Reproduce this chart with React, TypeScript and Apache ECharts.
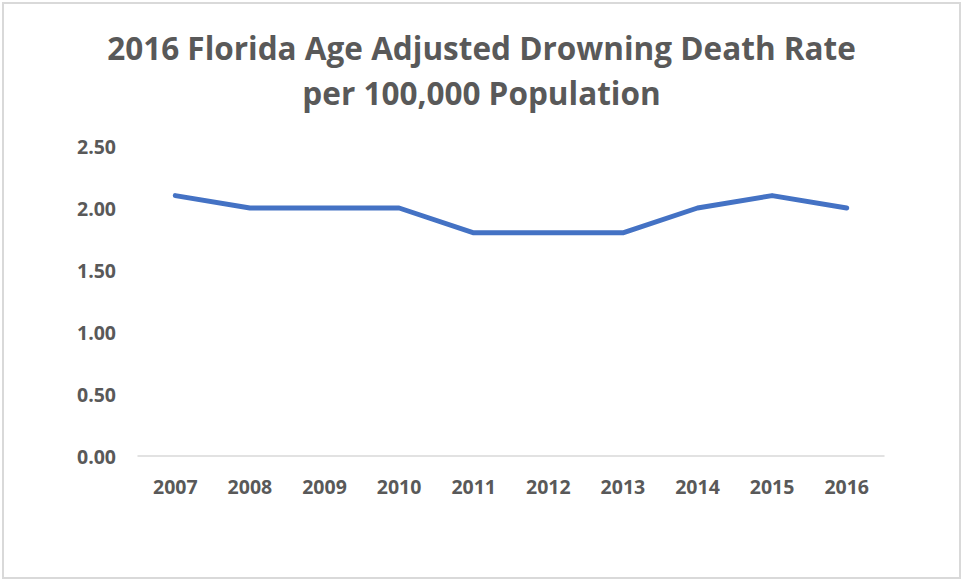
import React, { useEffect, useRef } from "react";
import * as echarts from "echarts";

const categories = ["2007", "2008", "2009", "2010", "2011", "2012", "2013", "2014", "2015", "2016"];
const rates = [2.1, 2.0, 2.0, 2.0, 1.8, 1.8, 1.8, 2.0, 2.1, 2.0];
const titleText = "2016 Florida Age Adjusted Drowning Death Rate\nper 100,000 Population";

export default function App() {
  const ref = useRef<HTMLDivElement>(null);
  useEffect(() => {
    if (!ref.current) return;
    const chart = echarts.init(ref.current, undefined, { renderer: "svg" });
    chart.setOption({
      animation: false,
      title: {
        text: titleText,
        left: "center",
        top: 20,
        textStyle: {
          fontFamily: "Open Sans",
          fontWeight: "bold",
          fontSize: 31.5,
          lineHeight: 45,
          color: "#595959",
        },
      },
      grid: { left: 138, right: 79, top: 146, bottom: 125, containLabel: false },
      xAxis: {
        type: "category",
        data: categories,
        boundaryGap: true,
        axisLine: { show: true, lineStyle: { color: "#d9d9d9", width: 1.5 } },
        axisTick: { show: false },
        axisLabel: {
          margin: 20,
          fontFamily: "Open Sans",
          fontWeight: "bold",
          fontSize: 19.5,
          color: "#595959",
        },
      },
      yAxis: {
        type: "value",
        min: 0,
        max: 2.5,
        interval: 0.5,
        splitLine: { show: false },
        axisLine: { show: false },
        axisTick: { show: false },
        axisLabel: {
          margin: 22,
          fontFamily: "Open Sans",
          fontWeight: "bold",
          fontSize: 19.5,
          color: "#595959",
          formatter: (v: number) => v.toFixed(2),
        },
      },
      series: [
        {
          type: "line",
          data: rates,
          symbol: "none",
          lineStyle: { color: "#4472c4", width: 5, cap: "round", join: "round" },
        },
      ],
    });
    return () => chart.dispose();
  }, []);
  return (
    <div
      style={{
        position: "absolute",
        left: 0,
        top: 0,
        width: 963,
        height: 581,
        background: "#fff",
      }}
    >
      <div ref={ref} style={{ position: "absolute", left: 0, top: 0, width: 963, height: 581 }} />
      <div
        style={{
          position: "absolute",
          left: 2,
          top: 2,
          width: 959,
          height: 577,
          boxSizing: "border-box",
          border: "2px solid #d9d9d9",
          pointerEvents: "none",
        }}
      />
    </div>
  );
}
